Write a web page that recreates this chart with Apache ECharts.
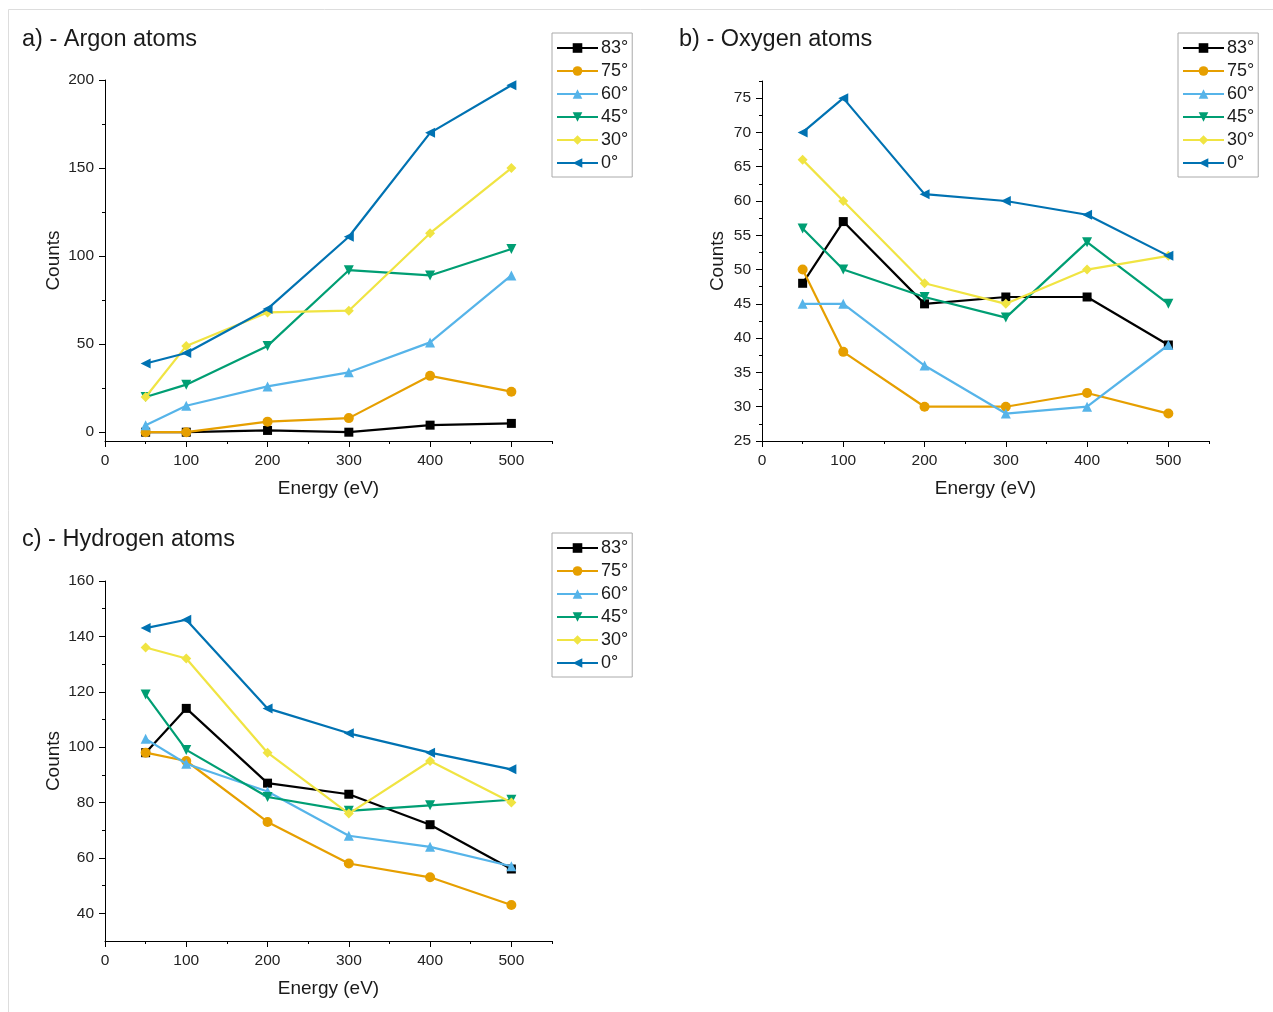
<!DOCTYPE html>
<html><head><meta charset="utf-8">
<script src="https://cdn.jsdelivr.net/npm/echarts@6/dist/echarts.min.js"></script>
<style>html,body{margin:0;padding:0;background:#fff}#c{width:1273px;height:1012px}</style>
</head><body><div id="c"></div>
<script>
// ---------- data ----------
const energies = [50, 100, 200, 300, 400, 500];
const angleNames = ['83°', '75°', '60°', '45°', '30°', '0°'];

const argon83 = [0, 0, 1, 0, 4, 5];
const argon75 = [0, 0, 6, 8, 32, 23];
const argon60 = [4, 15, 26, 34, 51, 89];
const argon45 = [20, 27, 49, 92, 89, 104];
const argon30 = [20, 49, 68, 69, 113, 150];
const argon0  = [39, 45, 70, 111, 170, 197];

const oxygen83 = [48, 57, 45, 46, 46, 39];
const oxygen75 = [50, 38, 30, 30, 32, 29];
const oxygen60 = [45, 45, 36, 29, 30, 39];
const oxygen45 = [56, 50, 46, 43, 54, 45];
const oxygen30 = [66, 60, 48, 45, 50, 52];
const oxygen0  = [70, 75, 61, 60, 58, 52];

const hydrogen83 = [98, 114, 87, 83, 72, 56];
const hydrogen75 = [98, 95, 73, 58, 53, 43];
const hydrogen60 = [103, 94, 84, 68, 64, 57];
const hydrogen45 = [119, 99, 82, 77, 79, 81];
const hydrogen30 = [136, 132, 98, 76, 95, 80];
const hydrogen0  = [143, 146, 114, 105, 98, 92];

const xMajorTicks = [0, 100, 200, 300, 400, 500];
const xMinorTicks = [50, 150, 250, 350, 450, 550];
const argonYTicks = [0, 50, 100, 150, 200];
const argonYMinor = [25, 75, 125, 175];
const oxygenYTicks = [25, 30, 35, 40, 45, 50, 55, 60, 65, 70, 75];
const oxygenYMinor = [27.5, 32.5, 37.5, 42.5, 47.5, 52.5, 57.5, 62.5, 67.5, 72.5, 77.5];
const hydrogenYTicks = [40, 60, 80, 100, 120, 140, 160];
const hydrogenYMinor = [50, 70, 90, 110, 130, 150];

const panelTitles = ['a) - Argon atoms', 'b) - Oxygen atoms', 'c) - Hydrogen atoms'];

// ---------- styling ----------
const colors = ['#000000', '#E69F00', '#56B4E9', '#009E73', '#F0E442', '#0072B2'];
const symbols = ['rect', 'circle', 'triangle', 'path://M0,0L10,0L5,9Z', 'diamond', 'path://M9,0L9,10L0,5Z'];
const symbolSizes = [9, 10, 10, 10, 10, 10];
const FONT = '"Liberation Sans", Arial, sans-serif';

const panels = [
  { series: [argon83, argon75, argon60, argon45, argon30, argon0], yMin: -5, yMax: 200, yT: argonYTicks, yM: argonYMinor,
    grid: { left: 105, top: 80, width: 447, height: 361 }, title: { left: 22, top: 28 }, legend: { left: 552, top: 33 }, yNameGap: 42 },
  { series: [oxygen83, oxygen75, oxygen60, oxygen45, oxygen30, oxygen0], yMin: 25, yMax: 77.5, yT: oxygenYTicks, yM: oxygenYMinor,
    grid: { left: 762, top: 81, width: 447, height: 360 }, title: { left: 679, top: 28 }, legend: { left: 1178, top: 33 }, yNameGap: 35 },
  { series: [hydrogen83, hydrogen75, hydrogen60, hydrogen45, hydrogen30, hydrogen0], yMin: 30, yMax: 160, yT: hydrogenYTicks, yM: hydrogenYMinor,
    grid: { left: 105, top: 581, width: 447, height: 360 }, title: { left: 22, top: 528 }, legend: { left: 552, top: 533 }, yNameGap: 42 }
];

const grid = [], xAxis = [], yAxis = [], series = [], title = [], legend = [];
panels.forEach((p, pi) => {
  grid.push(p.grid);
  title.push({ text: panelTitles[pi], left: p.title.left, top: p.title.top, padding: 0,
    textStyle: { fontFamily: FONT, fontSize: 23.5, fontWeight: 'normal', color: '#1a1a1a' } });
  legend.push({
    data: angleNames, orient: 'vertical', left: p.legend.left, top: p.legend.top,
    itemWidth: 41, itemHeight: 12, itemGap: 5, padding: [6, 4, 5, 4],
    borderColor: '#aaaaaa', borderWidth: 1, borderRadius: 0, selectedMode: false,
    textStyle: { fontFamily: FONT, fontSize: 18, color: '#1a1a1a', lineHeight: 18, padding: [0, 0, 0, -2] }
  });
  xAxis.push({
    type: 'value', gridIndex: pi, min: 0, max: 550, position: 'bottom',
    name: 'Energy (eV)', nameLocation: 'middle', nameGap: 38,
    nameTextStyle: { fontFamily: FONT, fontSize: 19, color: '#1a1a1a' },
    axisLine: { show: true, onZero: false, lineStyle: { color: '#000', width: 1 } },
    axisTick: { show: true, length: 6, customValues: xMajorTicks, lineStyle: { color: '#000' } },
    axisLabel: { customValues: xMajorTicks, fontFamily: FONT, fontSize: 15.5, color: '#222', margin: 12 },
    splitLine: { show: false }
  });
  xAxis.push({
    type: 'value', gridIndex: pi, min: 0, max: 550, position: 'bottom',
    axisLine: { show: false, onZero: false },
    axisTick: { show: true, length: 3, customValues: xMinorTicks, lineStyle: { color: '#000' } },
    axisLabel: { show: false }, splitLine: { show: false }
  });
  yAxis.push({
    type: 'value', gridIndex: pi, min: p.yMin, max: p.yMax, position: 'left',
    name: 'Counts', nameLocation: 'middle', nameGap: p.yNameGap, nameRotate: 90,
    nameTextStyle: { fontFamily: FONT, fontSize: 19, color: '#1a1a1a' },
    axisLine: { show: true, onZero: false, lineStyle: { color: '#000', width: 1 } },
    axisTick: { show: true, length: 6, customValues: p.yT, lineStyle: { color: '#000' } },
    axisLabel: { customValues: p.yT, fontFamily: FONT, fontSize: 15.5, color: '#222', margin: 11 },
    splitLine: { show: false }
  });
  yAxis.push({
    type: 'value', gridIndex: pi, min: p.yMin, max: p.yMax, position: 'left',
    axisLine: { show: false, onZero: false },
    axisTick: { show: true, length: 3, customValues: p.yM, lineStyle: { color: '#000' } },
    axisLabel: { show: false }, splitLine: { show: false }
  });
  p.series.forEach((vals, si) => {
    series.push({
      type: 'line', name: angleNames[si], xAxisIndex: pi * 2, yAxisIndex: pi * 2,
      data: energies.map((e, k) => [e, vals[k]]),
      symbol: symbols[si], symbolSize: symbolSizes[si], showSymbol: true,
      color: colors[si],
      lineStyle: { width: 2.2, color: colors[si] },
      itemStyle: { color: colors[si] },
      animation: false, z: 2 + si
    });
  });
});

const chart = echarts.init(document.getElementById('c'), null, { renderer: 'canvas' });
chart.setOption({
  backgroundColor: '#ffffff',
  animation: false,
  title, legend, grid, xAxis, yAxis, series,
  graphic: [
    { type: 'line', shape: { x1: 8.5, y1: 9.5, x2: 1273, y2: 9.5 }, style: { stroke: '#dddddd', lineWidth: 1 }, silent: true },
    { type: 'line', shape: { x1: 8.5, y1: 9.5, x2: 8.5, y2: 1012 }, style: { stroke: '#dddddd', lineWidth: 1 }, silent: true }
  ]
});
</script>
</body></html>
